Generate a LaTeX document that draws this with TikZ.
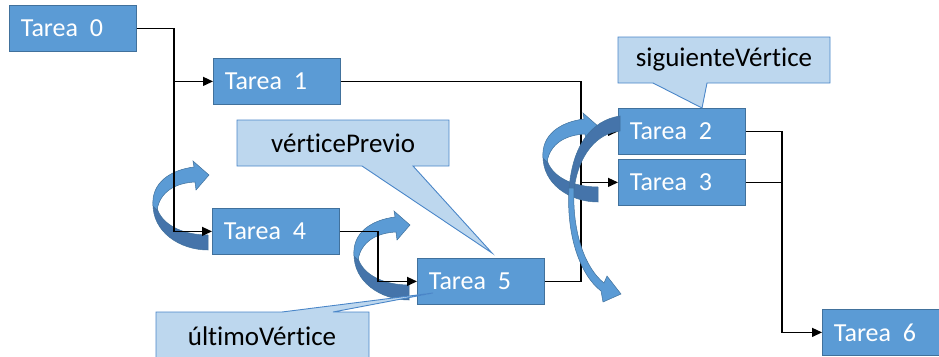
\documentclass[tikz,border=0pt]{standalone}
\usepackage{fontspec}
\setmainfont[Ligatures=NoCommon]{Carlito}
\usetikzlibrary{arrows.meta}
\definecolor{taskblue}{HTML}{5B9BD5}
\definecolor{taskedge}{HTML}{41719C}
\definecolor{notefill}{HTML}{BDD7EE}
\definecolor{noteedge}{HTML}{4A86C8}
\definecolor{bandlight}{HTML}{5B9BD5}
\definecolor{banddark}{HTML}{4574AA}
\tikzset{
  task/.style={rectangle, fill=taskblue, draw=taskedge, line width=0.8pt,
    minimum width=127pt, minimum height=46pt, text width=104pt,
    inner xsep=11.5pt, inner ysep=0pt, align=left, anchor=north west,
    text=white, font=\fontsize{26}{30}\selectfont},
  notetext/.style={font=\fontsize{27}{32}\selectfont, text=black, inner sep=0pt},
  note/.style={fill=notefill, draw=noteedge, line width=0.9pt, line join=miter},
  link/.style={draw=black, line width=1.3pt},
  arr/.style={link, -{Triangle[length=10pt,width=9pt]}},
  bandfront/.style={fill=bandlight, draw=taskedge, line width=0.5pt},
  bandback/.style={fill=banddark, draw=taskedge, line width=0.5pt},
}
% curved "turn" arrow: back face and front face with head
\newcommand{\turnarrow}[1]{%
  \begin{scope}[shift={#1}]
    \path[bandback] (153,203) .. controls (152,232) and (180,250) .. (208,250)
      -- (208,235) .. controls (183,235) and (162,225) .. (157,208) -- cycle;
    \path[bandfront] (153,206) .. controls (151,183) and (170,170) .. (194,167)
      -- (193,161) -- (209,175) -- (196,190) -- (195,182)
      .. controls (175,183) and (160,192) .. (157,210) -- cycle;
  \end{scope}}
\begin{document}
\begin{tikzpicture}[x=1pt,y=-1pt]
\useasboundingbox (0,0) rectangle (939,356);

% task boxes
\node[task] (t0) at (9,5)     {Tarea\hspace{0.45em}0};
\node[task] (t1) at (213,58)  {Tarea\hspace{0.45em}1};
\node[task] (t4) at (212,208) {Tarea\hspace{0.45em}4};
\node[task] (t5) at (417,258) {Tarea\hspace{0.45em}5};
\node[task] (t2) at (618,108) {Tarea\hspace{0.45em}2};
\node[task] (t3) at (618,159) {Tarea\hspace{0.45em}3};
\node[task] (t6) at (822,309) {Tarea\hspace{0.45em}6};

% bus lines
\coordinate (ba) at (174,0);
\coordinate (bb) at (581,0);
\coordinate (bc) at (378,0);
\coordinate (bd) at (782,0);

% left turn arrows sit under the connectors
\turnarrow{(0,0)}
\turnarrow{(201,50)}

% connectors
\draw[arr] (t0.east) -| (ba |- t1.west) -- (t1.west);
\draw[arr] (ba |- t1.west) |- (t4.west);
\draw[arr] (t4.east) -| (bc |- t5.west) -- (t5.west);
\draw[arr] (t1.east) -| (bb |- t2.west) -- (t2.west);
\draw[arr] (bb |- t2.west) |- (t3.west);
\draw[link] (t5.east) -| (bb |- t3.west);
\draw[arr] (t2.east) -| (bd |- t6.west) -- (t6.west);
\draw[link] (t3.east) -- (t3.east -| bd);

% turn arrows around Tarea 2 / Tarea 3
\turnarrow{(390,-48)}
\path[bandback] (620,116) .. controls (592,120) and (572,145) .. (569,190)
  -- (574,190) .. controls (578,155) and (597,133) .. (620,131) -- cycle;
\path[bandfront] (569,188) .. controls (566,235) and (580,275) .. (601,291)
  -- (603,302) -- (621,294) -- (607,276) -- (604,283)
  .. controls (585,268) and (572,232) .. (574,188) -- cycle;

% callouts
\path[note] (237,120) -- (449,120) -- (449,166) -- (413,166) -- (492,253)
  -- (362,166) -- (237,166) -- cycle;
\node[notetext] (prev) at (343,143) {vérticePrevio};

\path[note] (618,37) -- (830,37) -- (830,83) -- (707,83) -- (702,108)
  -- (653,83) -- (618,83) -- cycle;
\node[notetext] (next) at (724,60) {siguienteVértice};

\path[note] (156,312) -- (282,312) -- (433,293) -- (333,312) -- (369,312)
  -- (369,362) -- (156,362) -- cycle;
\node[notetext] (last) at (262,336) {últimoVértice};
\end{tikzpicture}
\end{document}
